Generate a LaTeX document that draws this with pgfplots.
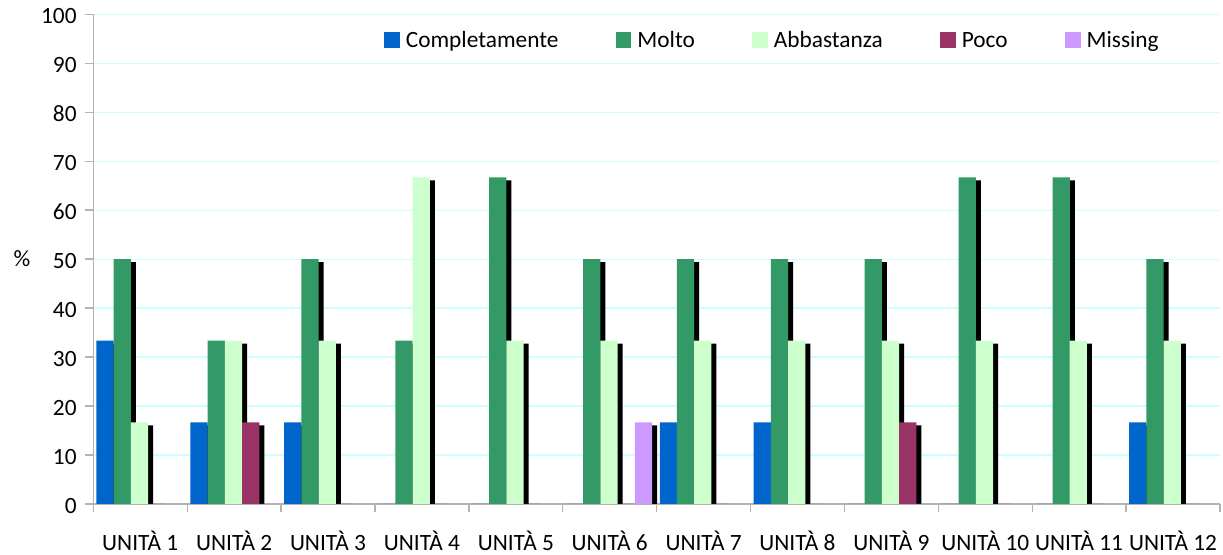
\documentclass[border=0pt]{standalone}
\usepackage{fontspec}
\setmainfont{Carlito}
\usepackage{pgfplots}
\pgfplotsset{compat=1.18}
\usepackage{pgfplotstable}
\definecolor{cC}{HTML}{0066CC}
\definecolor{cM}{HTML}{339966}
\definecolor{cA}{HTML}{CCFFCC}
\definecolor{cP}{HTML}{993366}
\definecolor{cMi}{HTML}{CC99FF}
\definecolor{gridc}{HTML}{CCFFFF}
\definecolor{axisc}{HTML}{B3B3B3}
\pgfplotstableread{
x C M A P Mi
1 33.33 50 16.67 0 0
2 16.67 33.33 33.33 16.67 0
3 16.67 50 33.33 0 0
4 0 33.33 66.67 0 0
5 0 66.67 33.33 0 0
6 0 50 33.33 0 16.67
7 16.67 50 33.33 0 0
8 16.67 50 33.33 0 0
9 0 50 33.33 16.67 0
10 0 66.67 33.33 0 0
11 0 66.67 33.33 0 0
12 16.67 50 33.33 0 0
}\data
\begin{document}
\begin{tikzpicture}
\begin{axis}[
  at={(0,0)}, anchor=south west,
  scale only axis, width=845pt, height=367.3pt,
  xmin=0.5, xmax=12.5, ymin=0, ymax=100,
  ybar, bar width=0.1837,
  axis lines*=left,
  axis line style={draw=axisc, line width=1.1pt},
  ytick={0,10,...,100},
  xtick={1,...,12},
  xticklabels={UNITÀ 1,UNITÀ 2,UNITÀ 3,UNITÀ 4,UNITÀ 5,UNITÀ 6,UNITÀ 7,UNITÀ 8,UNITÀ 9,UNITÀ 10,UNITÀ 11,UNITÀ 12},
  tick align=outside, major tick length=6pt,
  tick style={draw=axisc, line width=1pt},
  xtick style={draw=none},
  extra x ticks={0.5,1.5,...,12.5},
  extra x tick labels={},
  extra x tick style={xtick style={draw=axisc, line width=1pt}},
  ymajorgrids, major grid style={draw=gridc, line width=0.9pt},
  tick label style={font=\fontsize{17.5}{19}\selectfont, text=black},
  xticklabel style={yshift=-11pt},
  yticklabel style={xshift=-3pt, yshift=-1.2pt},
  /pgf/number format/assume math mode=true,
  ylabel={\%},
  every axis y label/.style={at={(rel axis cs:0,0.5)}, anchor=center, xshift=-53.5pt, font=\fontsize{17.5}{19}\selectfont},
  legend columns=-1,
  legend image code/.code={\fill[#1] (0pt,-3.05pt) rectangle (11.7pt,8.65pt);},
  legend style={draw=none, fill=none, at={(rel axis cs:0,1)}, anchor=west,
    xshift=218pt, yshift=-21.5pt, inner sep=0pt,
    font=\fontsize{17.5}{19}\selectfont,
    nodes={text depth=0.25em, text height=0.75em},
    /tikz/every even column/.append style={column sep=41pt},
    /tikz/every odd column/.append style={column sep=2.5pt}},
  legend cell align=left,
]
\addplot[fill=black, draw=none, bar shift=-0.375, xshift=3.75pt, yshift=-2.25pt, forget plot] table[x=x,y=C]{\data};
\addplot[fill=cC, draw=none, bar shift=-0.375] table[x=x,y=C]{\data};
\addlegendentry{Completamente}
\addplot[fill=black, draw=none, bar shift=-0.1915, xshift=3.75pt, yshift=-2.25pt, forget plot] table[x=x,y=M]{\data};
\addplot[fill=cM, draw=none, bar shift=-0.1915] table[x=x,y=M]{\data};
\addlegendentry{Molto}
\addplot[fill=black, draw=none, bar shift=-0.008, xshift=3.75pt, yshift=-2.25pt, forget plot] table[x=x,y=A]{\data};
\addplot[fill=cA, draw=none, bar shift=-0.008] table[x=x,y=A]{\data};
\addlegendentry{Abbastanza}
\addplot[fill=black, draw=none, bar shift=0.1755, xshift=3.75pt, yshift=-2.25pt, forget plot] table[x=x,y=P]{\data};
\addplot[fill=cP, draw=none, bar shift=0.1755] table[x=x,y=P]{\data};
\addlegendentry{Poco}
\addplot[fill=black, draw=none, bar shift=0.359, xshift=3.75pt, yshift=-2.25pt, forget plot] table[x=x,y=Mi]{\data};
\addplot[fill=cMi, draw=none, bar shift=0.359] table[x=x,y=Mi]{\data};
\addlegendentry{Missing}
\end{axis}
\pgfresetboundingbox
\useasboundingbox (-70pt,-38.25pt) rectangle (847.3pt,378pt);
\end{tikzpicture}
\end{document}
